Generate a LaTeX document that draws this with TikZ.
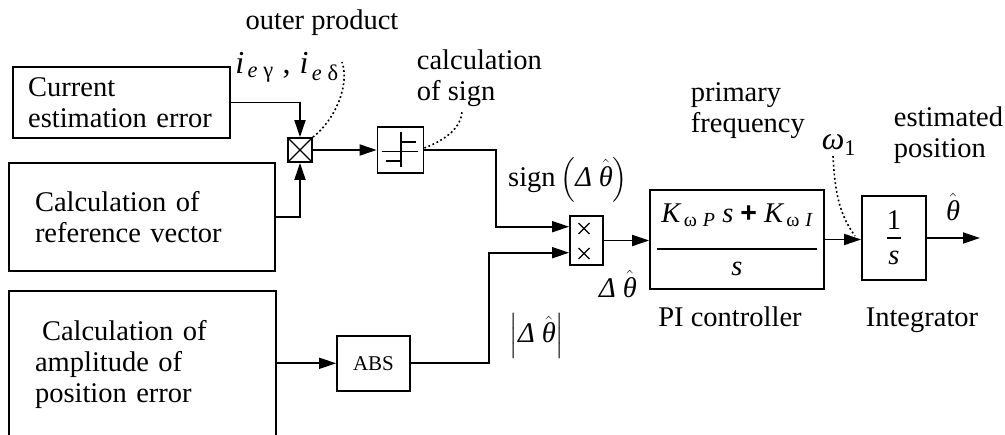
\documentclass[tikz,border=0pt]{standalone}
\usepackage{amsmath}
\usepackage{fontspec}
\setmainfont{Liberation Serif}
\newfontfamily\plusfont{Liberation Sans}
\usetikzlibrary{arrows.meta}
\newcommand{\itx}[1]{\text{\itshape #1}}
\newcommand{\thh}{\hat{\itx{θ}}}
\begin{document}
\begin{tikzpicture}[x=1pt,y=-1pt,
  font=\fontsize{28.5}{31}\selectfont,
  line width=1.8pt,
  blk/.style={draw, line width=1.8pt, inner sep=0pt, fill=white},
  tblk/.style={blk, align=left, inner ysep=0pt},
  arr/.style={-{Triangle[length=17pt,width=11pt]}, line width=1.8pt},
  dotc/.style={line width=1.6pt, dash pattern=on 1.8pt off 2.6pt},
  lbl/.style={inner sep=0pt, align=left},
  sym/.style={line width=1.3pt}]
\fill[white] (0,0) rectangle (1005,435);
\useasboundingbox (0,0) rectangle (1005,435);

% blocks
\node[tblk, minimum width=217.3pt, minimum height=71pt, inner xsep=15.3pt, text width=186.7pt] (cur) at (121.5,102.5) {Current\\estimation error};
\node[tblk, minimum width=266pt, minimum height=108pt, inner xsep=26pt, text width=214pt] (ref) at (142,217) {Calculation of\\reference vector};
\node[tblk, minimum width=267pt, minimum height=148pt, inner xsep=26pt, text width=215pt] (amp) at (142.5,365) {\hspace*{7pt}Calculation of\\amplitude of\\position error};

\node[blk, minimum size=24pt, path picture={\draw[sym] (path picture bounding box.north west) -- (path picture bounding box.south east) (path picture bounding box.north east) -- (path picture bounding box.south west);}] (xp) at (300,150) {};

\node[blk, minimum size=46pt] (sgn) at (400.5,150) {};
\begin{scope}[shift={(sgn.center)}]
  \draw[sym] (0.5,-18) -- (0.5,17);
  \draw[sym] (-19,1.7) -- (17.5,1.7);
  \draw[sym] (0.5,-8) -- (15,-8);
  \draw[sym] (-15,11) -- (0.5,11);
\end{scope}

\node[blk, minimum width=33pt, minimum height=49pt] (mul) at (586.5,240.5) {};
\begin{scope}[shift={(mul.center)}]
  \draw[sym] (-8,-17.5) -- (3,-6.5) (-8,-6.5) -- (3,-17.5);
  \draw[sym] (-8,7.5) -- (3,18.5) (-8,18.5) -- (3,7.5);
\end{scope}

\node[blk, font=\fontsize{21}{24}\selectfont, minimum width=73pt, minimum height=55pt] (abs) at (373.5,363.3) {ABS};

\node[blk, minimum width=174pt, minimum height=99pt] (pi) at (737,239.5)
  {$\genfrac{}{}{2.3pt}{0}{\rule[-19pt]{0pt}{19pt}\,\itx{K}_{\,\text{ω}\;\itx{P}}\;\itx{s}\;\text{\plusfont\bfseries +}\;\itx{K}_{\,\text{ω}\;\itx{I}}\,}{\rule{0pt}{18pt}\itx{s}}$};

\node[blk, minimum width=64pt, minimum height=84pt] (int) at (894,238)
  {$\genfrac{}{}{2.3pt}{0}{\raisebox{-11pt}{1}}{\rule{0pt}{19pt}\itx{s}}$};

% connectors
\coordinate (m1) at ([yshift=13.8pt]mul.west);
\coordinate (m2) at ([yshift=-12.2pt]mul.west);
\coordinate (out) at (980,239);
\draw[arr] (cur.east) -| (xp.north);
\draw[arr] (ref.east) -| (xp.south);
\draw[arr] (xp.east) -- (sgn.west);
\draw[arr] (sgn.east) -| ([xshift=-73.3pt]m1) -- (m1);
\draw[arr] (abs.east) -| ([xshift=-80pt]m2) -- (m2);
\draw[arr] (amp.east |- abs.west) -- (abs.west);
\draw[arr] (mul.east) -- (mul.east -| pi.west);
\draw[arr] (pi.east) -- (pi.east -| int.west);
\draw[arr] (int.east) -- (int.east -| out);

% dotted leaders
\coordinate (opt) at (342,62);
\draw[dotc] (xp.north east) .. controls (335,120) and (350,85) .. (opt);
\coordinate (cst) at (462,110);
\draw[dotc] ([yshift=2pt]sgn.east) .. controls (445,140) and (462,128) .. (cst);
\coordinate (wt) at (833,156);
\coordinate (wb) at (855,236);
\draw[dotc] (wt) .. controls (835,195) and (840,215) .. (wb);

% labels
\node[lbl, anchor=base] (op) at (322,30) {outer product};
\node[lbl, font=\fontsize{32}{34}\selectfont] (ie) at (287,67) {$\itx{i}_{\,\itx{e}\;\text{γ}}$\;,\;$\itx{i}_{\,\itx{e}\;\text{δ}}$};
\node[lbl, anchor=north west] (cs) at (416,49) {calculation\\of sign};
\node[lbl] (sl) at (568,180) {sign\,$\left(\itx{Δ}\;\thh\right)$};
\node[lbl] (dl) at (618,284) {$\itx{Δ}\;\thh$};
\node[lbl] (al) at (537,336) {$\left|\itx{Δ}\;\thh\right|$};
\node[lbl, anchor=north west] (pf) at (690,82) {primary\\frequency};
\node[lbl, font=\fontsize{32}{34}\selectfont] (wl) at (839,145) {$\itx{ω}_{\text{1}}$};
\node[lbl, anchor=north west] (ep) at (893,106) {estimated\\position};
\node[lbl] (tl) at (953,207) {$\thh$};
\node[lbl, anchor=base] (pic) at (730,327) {PI controller};
\node[lbl, anchor=base] (itg) at (922,327) {Integrator};
\end{tikzpicture}
\end{document}
